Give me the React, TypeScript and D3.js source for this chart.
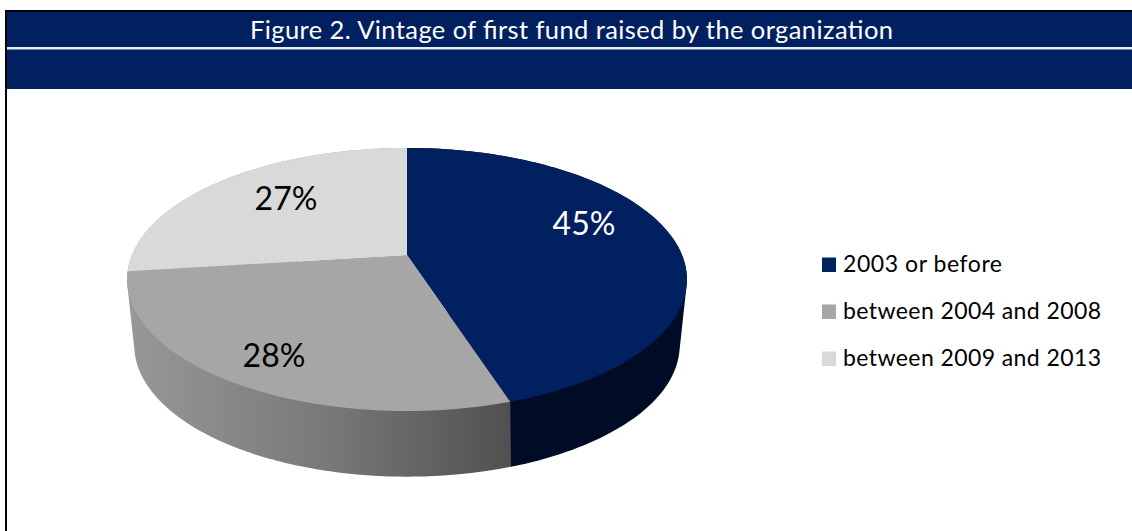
import * as d3 from 'd3';

const title = 'Figure 2. Vintage of first fund raised by the organization';
const categories = ['2003 or before', 'between 2004 and 2008', 'between 2009 and 2013'];
const shares = [45, 28, 27];
const colors = ['#002060', '#a6a6a6', '#d9d9d9'];
const sideColors = ['#000b26', 'url(#sideGray)', '#a8a8a8'];

const FONT = 'Lato, "Open Sans", sans-serif';

// perspective tilt of the disc, top face and bottom rim
const top_ = { cx: 407, cy: 255, rx: 275, ry: 127, k: 0.186 };
const bottom = { cx: 407, cy: 316.4, rx: 266, ry: 125, k: 0.22 };

type Disc = typeof top_;

const project = (d: Disc, a: number): [number, number] => {
  const u = Math.sin(a);
  const v = Math.cos(a);
  const w = 1 + d.k * v;
  return [d.cx + (d.rx * u) / w, d.cy - (d.ry * v) / w];
};

const App = () => {
  const slices = d3.pie<number>().sort(null)(shares);
  const line = d3.line();
  const rim = (d: Disc, a0: number, a1: number) =>
    d3.range(0, 121).map((i) => project(d, a0 + ((a1 - a0) * i) / 120));

  const face = (s: d3.PieArcDatum<number>) =>
    line([[top_.cx, top_.cy], ...rim(top_, s.startAngle, s.endAngle)]) + 'Z';
  // hull of both rims, so the outline runs straight down from the top disc to the bottom one
  const side = (s: d3.PieArcDatum<number>) =>
    line(d3.polygonHull([...rim(top_, s.startAngle, s.endAngle), ...rim(bottom, s.startAngle, s.endAngle)])!) + 'Z';

  const labelSpots = [
    { x: 584, y: 235 },
    { x: 274, y: 367 },
    { x: 286, y: 210 },
  ];
  const legendY = d3.scalePoint<string>().domain(categories).range([272, 366]);

  return (
    <svg
      width={1132}
      height={531}
      style={{ position: 'absolute', left: 0, top: 0, background: '#fff' }}
      fontFamily={FONT}
    >
      <defs>
        <linearGradient id="sideGray" gradientUnits="userSpaceOnUse" x1={127} x2={512} y1={0} y2={0}>
          <stop offset="0" stopColor="#989898" />
          <stop offset="0.5" stopColor="#7a7a7a" />
          <stop offset="1" stopColor="#505050" />
        </linearGradient>
      </defs>

      {/* frame and header band */}
      <rect x={5} y={10} width={1127} height={2} fill="#000" />
      <rect x={5} y={10} width={2} height={521} fill="#000" />
      <rect x={7} y={12} width={1125} height={77} fill="#002060" />
      <rect x={7} y={47} width={1125} height={2.5} fill="#e8ebf3" />
      <text x={250} y={39} fontSize={25.5} fill="#fff" textLength={643} lengthAdjust="spacing">
        {title}
      </text>

      {/* pie, gray side last so it covers the navy hull's chord */}
      {[2, 0, 1].map((i) => (
        <path key={i} d={side(slices[i])} fill={sideColors[i]} />
      ))}
      {slices.map((s, i) => (
        <path key={i} d={face(s)} fill={colors[i]} />
      ))}
      {slices.map((s, i) => (
        <text
          key={i}
          x={labelSpots[i].x}
          y={labelSpots[i].y}
          textAnchor="middle"
          fontSize={32}
          fill={i === 0 ? '#fff' : '#000'}
        >
          {s.data}%
        </text>
      ))}

      {/* legend */}
      {categories.map((c, i) => (
        <g key={c}>
          <rect x={822} y={legendY(c)! - 14.5} width={14} height={14.5} fill={colors[i]} />
          <text
            x={843}
            y={legendY(c)}
            fontSize={23}
            fill="#000"
            textLength={i === 0 ? 159 : 258}
            lengthAdjust="spacing"
          >
            {c}
          </text>
        </g>
      ))}
    </svg>
  );
};

export default App;
